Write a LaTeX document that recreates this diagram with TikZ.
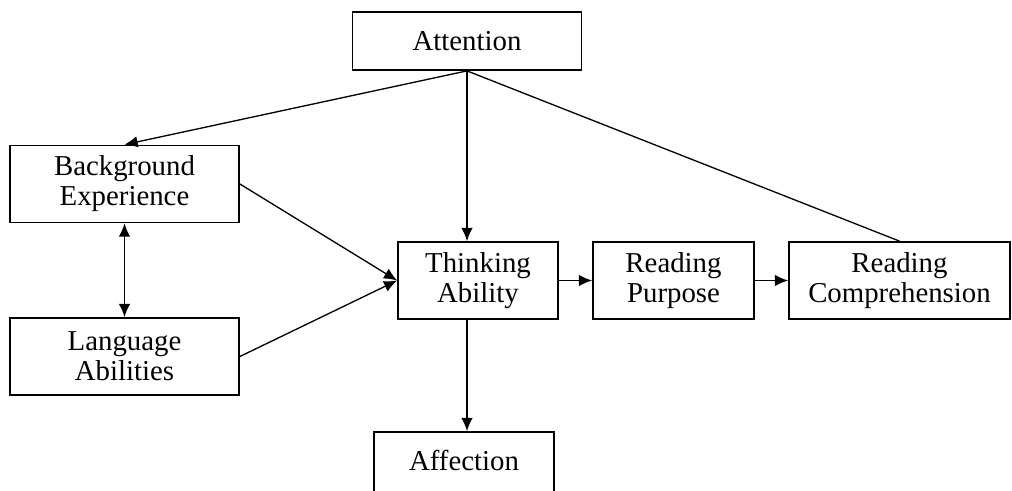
\documentclass[tikz,border=0pt]{standalone}
\usepackage{fontspec}
\setmainfont{Liberation Serif}
\usepackage{tikz}
\usetikzlibrary{arrows.meta}

\begin{document}
\begin{tikzpicture}[
    box/.style={draw, line width=1pt, align=center, inner sep=0pt,
        minimum height=1.54cm, font=\fontsize{16.4}{17}\selectfont},
    link/.style={line width=0.75pt, -{Latex[length=7.5pt,width=6.5pt]}}
]
    \useasboundingbox (0,0) rectangle (20.24,9.8);
    \clip (0,0) rectangle (20.24,9.8);

    % Boxes
    \node[box, minimum width=4.58cm, minimum height=1.16cm] (att) at (9.34,8.98) {Attention};
    \node[box, minimum width=4.58cm] (bg) at (2.49,6.12) {Background\\Experience};
    \node[box, minimum width=4.58cm] (lang) at (2.49,2.67) {Language\\Abilities};
    \node[box, minimum width=3.2cm] (think) at (9.56,4.19) {Thinking\\Ability};
    \node[box, minimum width=3.22cm] (purp) at (13.47,4.19) {Reading\\Purpose};
    \node[box, minimum width=4.42cm] (comp) at (17.99,4.19) {Reading\\Comprehension};
    \node[box, minimum width=3.6cm, text depth=0.39cm] (aff) at (9.28,0.39) {Affection};

    % Arrows from Attention
    \draw[link] (att.south) -- (bg.north);
    \draw[link] (att.south) -- (att.south |- think.north);
    \draw[line width=0.75pt] (att.south) -- (comp.north);

    % Arrows into Thinking
    \draw[link] (bg.east) -- (think.west);
    \draw[link] (lang.east) -- (think.west);
    \draw[link, {Latex[length=7.5pt,width=6.5pt]}-{Latex[length=7.5pt,width=6.5pt]}] (bg.south) -- (lang.north);

    % Chain
    \draw[link] (think) -- (purp);
    \draw[link] (purp) -- (comp);
    \draw[link] (att.south |- think.south) -- (att.south |- aff.north);
\end{tikzpicture}
\end{document}
